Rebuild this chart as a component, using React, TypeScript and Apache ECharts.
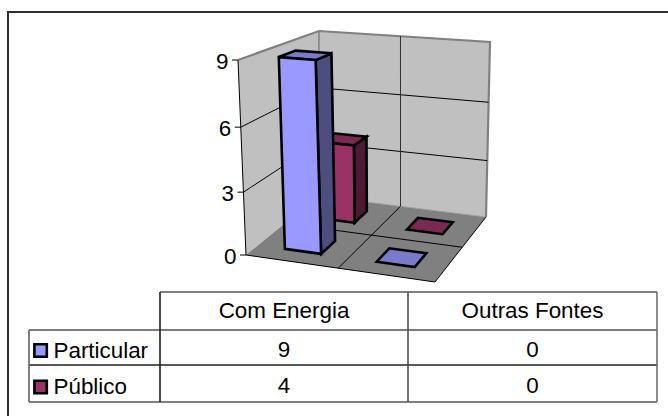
import React, { useEffect, useRef } from "react";
import * as echarts from "echarts";

const categories = ["Com Energia", "Outras Fontes"];
const seriesNames = ["Particular", "Público"];
const particular = [9, 0];
const publico = [4, 0];
const valueTicks = [0, 3, 6, 9];
const faces = [
  { front: "#9999FF", top: "#7A7ACC", side: "#4D4D80" },
  { front: "#993366", top: "#7A2952", side: "#4D1A33" },
];

type Pt = number[];
function homography(p00: Pt, p10: Pt, p11: Pt, p01: Pt) {
  const dx1 = p10[0] - p11[0], dx2 = p01[0] - p11[0], sx = p00[0] - p10[0] + p11[0] - p01[0];
  const dy1 = p10[1] - p11[1], dy2 = p01[1] - p11[1], sy = p00[1] - p10[1] + p11[1] - p01[1];
  const den = dx1 * dy2 - dx2 * dy1;
  const g = (sx * dy2 - dx2 * sy) / den;
  const h = (dx1 * sy - sx * dy1) / den;
  const a = p10[0] - p00[0] + g * p10[0], b = p01[0] - p00[0] + h * p01[0];
  const d = p10[1] - p00[1] + g * p10[1], e = p01[1] - p00[1] + h * p01[1];
  return (u: number, v: number): Pt => {
    const w = g * u + h * v + 1;
    return [(a * u + b * v + p00[0]) / w, (d * u + e * v + p00[1]) / w];
  };
}
const floorMap = homography([246, 255], [435, 282], [486, 217], [318.5, 196]);
const topMap = homography([238, 60], [438, 77], [490, 42], [319, 31]);

const GRID = { left: 246, top: 60, width: 189, height: 195 };
const FONT = "22.4px 'Liberation Sans', Arial, sans-serif";

// u, d in 0..1 across the plot and into the depth, n in 0..1 up the value axis
function project(u: number, d: number, n: number): Pt {
  const f = floorMap(u, d), t = topMap(u, d);
  const k = n - 0.05 * n * (1 - n);
  return [f[0] + (t[0] - f[0]) * k, f[1] + (t[1] - f[1]) * k];
}

export default function App() {
  const ref = useRef<HTMLDivElement>(null);
  useEffect(() => {
    const chart = echarts.init(ref.current!, undefined, { renderer: "svg" });
    const toPlot = (api: any, x: number, v: number) => {
      const c = api.coord([x, v]);
      return { u: (c[0] - GRID.left) / GRID.width, n: (GRID.top + GRID.height - c[1]) / GRID.height };
    };
    const P = (api: any, x: number, v: number, depth: number) => {
      const q = toPlot(api, x, v);
      return project(q.u, depth / 2, q.n);
    };
    const poly = (points: Pt[], fill: string, stroke: string, lineWidth: number) => ({
      type: "polygon", shape: { points },
      style: { fill, stroke, lineWidth, lineJoin: "miter" },
    });
    const line = (a: Pt, b: Pt, stroke: string, lineWidth: number) => ({
      type: "line", shape: { x1: a[0], y1: a[1], x2: b[0], y2: b[1] },
      style: { stroke, lineWidth, fill: "none" },
    });

    const frame = {
      type: "custom", coordinateSystem: "cartesian2d", silent: true, z: 1,
      data: [[0, 0]],
      encode: { x: 0, y: 1 },
      renderItem: (_: any, api: any) => {
        const kids: any[] = [];
        const wall = "#C0C0C0", edge = "#808080";
        kids.push(poly([P(api, 0, 0, 0), P(api, 0, 9, 0), P(api, 0, 9, 2), P(api, 0, 0, 2)], wall, "none", 0));
        kids.push(poly([P(api, 0, 0, 2), P(api, 0, 9, 2), P(api, 2, 9, 2), P(api, 2, 0, 2)], wall, "none", 0));
        kids.push(poly([P(api, 0, 0, 0), P(api, 2, 0, 0), P(api, 2, 0, 2), P(api, 0, 0, 2)], edge, "none", 0));
        kids.push({
          type: "polyline",
          shape: { points: [P(api, 0, 9, 0), P(api, 0, 9, 2), P(api, 2, 9, 2), P(api, 2, 0, 2)] },
          style: { stroke: edge, lineWidth: 2.2, fill: "none" },
        });
        kids.push(line(P(api, 0, 9, 2), P(api, 0, 0, 2), edge, 1.5));
        kids.push(line(P(api, 0, 0, 2), P(api, 2, 0, 2), "#A0A0A0", 1));
        valueTicks.filter((v) => v > 0 && v < 9).forEach((v) => {
          kids.push(line(P(api, 0, v, 0), P(api, 0, v, 2), "#000", 1));
          kids.push(line(P(api, 0, v, 2), P(api, 2, v, 2), "#000", 1));
        });
        kids.push(line(P(api, 1, 0, 2), P(api, 1, 9, 2), "#303030", 1));
        kids.push(line(P(api, 1, 0, 0), P(api, 1, 0, 2), "#000", 1));
        kids.push(line(P(api, 0, 0, 1), P(api, 2, 0, 1), "#000", 1));
        kids.push(line(P(api, 0, 0, 0), P(api, 0, 9, 0), "#000", 1));
        kids.push(line(P(api, 0, 0, 0), P(api, 2, 0, 0), "#000", 1));
        kids.push(line(P(api, 2, 0, 0), P(api, 2, 0, 2), "#000", 1));
        valueTicks.forEach((v) => {
          const p = P(api, 0, v, 0);
          kids.push(line([p[0] - 6, p[1]], p, "#000", 1));
          kids.push({
            type: "text", x: p[0] - 9.5, y: p[1] + 1,
            style: { text: String(v), align: "right", verticalAlign: "middle", font: FONT, fill: "#000" },
          });
        });
        return { type: "group", children: kids };
      },
    };

    const barSeries = (name: string, values: number[], idx: number) => ({
      type: "custom", name, coordinateSystem: "cartesian2d", silent: true, z: 5 - idx,
      data: values.map((v, i) => [i, v]),
      encode: { x: 0, y: 1 },
      renderItem: (_: any, api: any) => {
        const cat = api.value(0), v = api.value(1);
        const x0 = cat + 0.3, x1 = cat + 0.7, d0 = idx + 0.3, d1 = idx + 0.7;
        const col = faces[idx];
        const sw = 2.6;
        const kids: any[] = [];
        if (v > 0) {
          kids.push(poly([P(api, x1, 0, d0), P(api, x1, v, d0), P(api, x1, v, d1), P(api, x1, 0, d1)], col.side, "#000", sw));
          kids.push(poly([P(api, x0, v, d0), P(api, x1, v, d0), P(api, x1, v, d1), P(api, x0, v, d1)], col.top, "#000", sw));
          kids.push(poly([P(api, x0, 0, d0), P(api, x1, 0, d0), P(api, x1, v, d0), P(api, x0, v, d0)], col.front, "#000", sw));
        } else {
          kids.push(poly([P(api, x0, 0, d0), P(api, x1, 0, d0), P(api, x1, 0, d1), P(api, x0, 0, d1)], col.top, "#000", sw));
        }
        return { type: "group", children: kids };
      },
    });

    const tableCols = [29, 160, 408, 657];
    const tableRows = [292, 330, 365, 402];
    const T = (text: string, x: number, y: number, align: string) => ({
      type: "text", x, y, silent: true,
      style: { text, align, verticalAlign: "middle", font: FONT, fill: "#000" },
    });
    const L = (x1: number, y1: number, x2: number, y2: number, stroke: string, w = 1.6) => ({
      type: "line", silent: true,
      shape: { x1, y1, x2, y2 }, style: { stroke, lineWidth: w },
    });
    const cx = [(tableCols[1] + tableCols[2]) / 2, (tableCols[2] + tableCols[3]) / 2];
    const rowText = [349.5, 385];
    const labelText = [350.5, 386.5];
    const swatch = [350.5, 387];
    const tableValues = [particular, publico];
    const tableGraphics: any[] = [
      L(8, 12, 668, 12, "#303030", 2),
      L(8, 11, 8, 416, "#303030", 2),
      L(tableCols[1], tableRows[0], tableCols[3], tableRows[0], "#808080", 2),
      L(tableCols[0], tableRows[1], tableCols[3], tableRows[1], "#505050"),
      L(tableCols[0], tableRows[2], tableCols[3], tableRows[2], "#202020"),
      L(tableCols[0], tableRows[3], tableCols[3], tableRows[3], "#808080", 2),
      L(tableCols[0], tableRows[1], tableCols[0], tableRows[3], "#606060"),
      L(tableCols[1], tableRows[0], tableCols[1], tableRows[3], "#202020"),
      L(tableCols[2], tableRows[0], tableCols[2], tableRows[3], "#505050"),
      L(tableCols[3], tableRows[0], tableCols[3], tableRows[3], "#707070"),
    ];
    categories.forEach((c, i) => tableGraphics.push(T(c, cx[i], 310, "center")));
    seriesNames.forEach((s, r) => {
      tableGraphics.push({
        type: "rect", silent: true,
        shape: { x: 34.4, y: swatch[r] - 6.2, width: 12.4, height: 12.4 },
        style: { fill: faces[r].front, stroke: "#000", lineWidth: 2.6 },
      });
      tableGraphics.push(T(s, 53.5, labelText[r], "left"));
      tableValues[r].forEach((v, c) => tableGraphics.push(T(String(v), cx[c], rowText[r], "center")));
    });

    chart.setOption({
      animation: false,
      backgroundColor: "#fff",
      grid: { left: GRID.left, top: GRID.top, width: GRID.width, height: GRID.height },
      xAxis: { type: "value", min: 0, max: 2, interval: 1, show: false },
      yAxis: { type: "value", min: 0, max: 9, interval: 3, show: false },
      graphic: tableGraphics,
      series: [frame, barSeries(seriesNames[1], publico, 1), barSeries(seriesNames[0], particular, 0)],
    });
    return () => chart.dispose();
  }, []);
  return <div ref={ref} style={{ width: 668, height: 416, position: "absolute", left: 0, top: 0 }} />;
}
